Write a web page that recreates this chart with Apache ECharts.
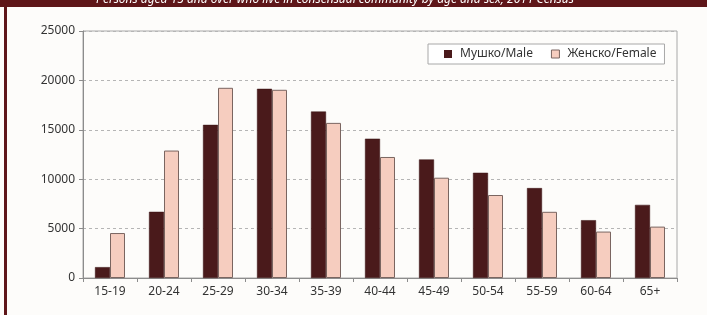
<!DOCTYPE html>
<html>
<head>
<meta charset="utf-8">
<script src="https://cdn.jsdelivr.net/npm/echarts@6/dist/echarts.min.js"></script>
<style>
  html, body { margin: 0; padding: 0; background: #fdfcfa; }
  #chart { width: 707px; height: 315px; }
</style>
</head>
<body>
<div id="chart"></div>
<script>
// categories and values
const ageGroups = ['15-19', '20-24', '25-29', '30-34', '35-39', '40-44', '45-49', '50-54', '55-59', '60-64', '65+']
const male = [1100, 6700, 15500, 19150, 16850, 14100, 12000, 10650, 9100, 5850, 7400]
const female = [4550, 12900, 19250, 19050, 15700, 12250, 10150, 8400, 6700, 4700, 5200]
const yTicks = [0, 5000, 10000, 15000, 20000, 25000]

const fontFam = 'Noto Sans'
const myChart = echarts.init(document.getElementById('chart'))

const option = {
  backgroundColor: '#fdfcfa',
  textStyle: { fontFamily: fontFam },
  graphic: [
    // banner on top
    { type: 'rect', left: 0, top: 0, shape: { width: 707, height: 7 }, style: { fill: '#5e1619' }, z: 10 },
    // left border
    { type: 'rect', left: 4, top: 0, shape: { width: 3, height: 315 }, style: { fill: '#5e1619' }, z: 10 },
    {
      type: 'text', x: 335, y: 6, z: 11,
      style: {
        text: 'Persons aged 15 and over who live in consensual community by age and sex, 2011 Census',
        fill: '#fff', font: 'italic 12px ' + fontFam,
        textAlign: 'center', textVerticalAlign: 'bottom'
      }
    }
  ],
  grid: {
    left: 83, right: 30, top: 31, bottom: 37,
    show: true, borderColor: '#a8a8a8', borderWidth: 1
  },
  legend: {
    data: [
      { name: 'Мушко/Male', itemStyle: { color: '#4a1a1b', borderWidth: 0 } },
      { name: 'Женско/Female', itemStyle: { color: '#f6cdbf', borderColor: '#7a6560', borderWidth: 1 } }
    ],
    left: 428, top: 44,
    padding: [4, 8, 4, 16],
    borderColor: '#a8a8a8', borderWidth: 1,
    backgroundColor: '#fff',
    icon: 'rect', itemWidth: 8, itemHeight: 8, itemGap: 18,
    textStyle: { fontSize: 12, color: '#333', fontFamily: fontFam, padding: [0, 0, 0, 3] }
  },
  xAxis: {
    type: 'category',
    data: ageGroups,
    axisLine: { lineStyle: { color: '#8c8c8c' } },
    axisTick: { show: true, length: 4, lineStyle: { color: '#8c8c8c' } },
    axisLabel: { color: '#333', fontSize: 12, margin: 8 }
  },
  yAxis: {
    type: 'value',
    min: yTicks[0], max: yTicks[yTicks.length - 1], interval: 5000,
    axisLine: { show: true, lineStyle: { color: '#8c8c8c' } },
    axisTick: { show: true, length: 4, lineStyle: { color: '#8c8c8c' } },
    axisLabel: { color: '#333', fontSize: 12, margin: 8, formatter: function (v) { return String(v) } },
    splitLine: { lineStyle: { color: '#b5b5b5', type: [3, 3] } }
  },
  series: [
    {
      name: 'Мушко/Male', type: 'bar', data: male,
      barWidth: 15, barGap: '0%',
      itemStyle: { color: '#4a1a1b', borderColor: '#3a1414', borderWidth: 0.5 }
    },
    {
      name: 'Женско/Female', type: 'bar', data: female,
      barWidth: 15,
      itemStyle: { color: '#f6cdbf', borderColor: '#7a6560', borderWidth: 1 }
    }
  ]
}

myChart.setOption(option)
window.addEventListener('resize', function () {
  myChart.resize()
})
</script>
</body>
</html>
